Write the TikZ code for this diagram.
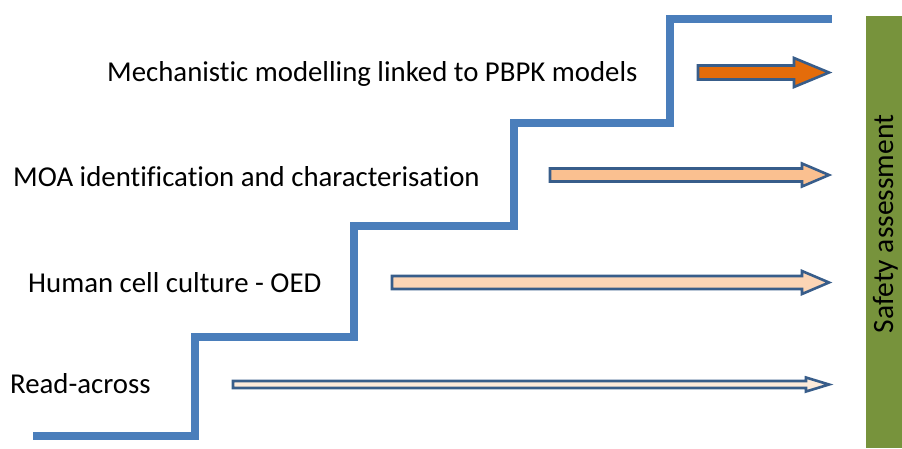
\documentclass[tikz,border=0pt]{standalone}
\usepackage{fontspec}
\setmainfont{Carlito}[Ligatures=NoCommon]
\definecolor{stair}{HTML}{4A7EBB}
\definecolor{outl}{HTML}{385D8A}
\definecolor{fillA}{HTML}{E46C0A}
\definecolor{fillB}{HTML}{FAC090}
\definecolor{fillC}{HTML}{FCD5B5}
\definecolor{fillD}{HTML}{FDEADA}
\definecolor{safe}{HTML}{77933C}
\tikzset{
  lbl/.style={anchor=base west, inner sep=0pt, font=\fontsize{28.8}{33}\selectfont},
  arr/.style={draw=outl, line width=2.6pt, line join=miter},
}
% #1 start x, #2 centre y, #3 half body, #4 half head, #5 head base x, #6 tip x, #7 fill
\newcommand\myarrow[7]{%
  \draw[arr, fill=#7] (#1,#2-#3) -- (#5,#2-#3) -- (#5,#2-#4) -- (#6,#2) -- (#5,#2+#4) -- (#5,#2+#3) -- (#1,#2+#3) -- cycle;}
\begin{document}
\begin{tikzpicture}[x=1pt,y=-1pt]
\useasboundingbox (0,0) rectangle (902,448);
% staircase
\draw[stair, line width=8.5pt, line join=miter]
  (33,436) -- (195,436) -- (195,337) -- (354,337) -- (354,226) -- (514,226)
  -- (514,123) -- (670,123) -- (670,19) -- (832,19);
% arrows
\myarrow{698}{72.5}{7}{14.5}{794}{829}{fillA}
\myarrow{550}{175}{6.5}{11.5}{802}{829}{fillB}
\myarrow{392}{282.5}{6.5}{11.5}{802}{829}{fillC}
\myarrow{233}{384.5}{3.5}{7}{806}{829}{fillD}
% labels
\node[lbl] (t1) at (107,81) {Mechanistic modelling linked to PBPK models};
\node[lbl] (t2) at (13,186) {MOA identification and characterisation};
\node[lbl] (t3) at (28,292) {Human cell culture - OED};
\node[lbl] (t4) at (10,393) {Read-across};
% safety bar
\fill[safe] (866,16) rectangle (902,448);
\node[rotate=90, anchor=base, inner sep=0pt, font=\fontsize{29.5}{33}\selectfont] (sa) at (893,224) {Safety assessment};
\end{tikzpicture}
\end{document}
